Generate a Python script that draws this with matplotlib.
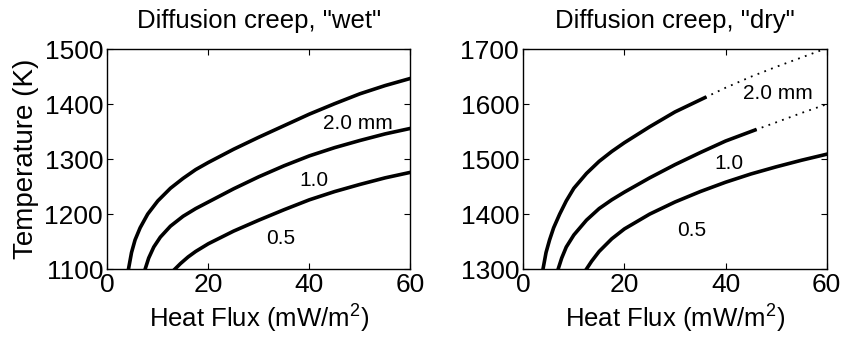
import matplotlib
matplotlib.use("Agg")
import matplotlib.pyplot as plt

plt.rcParams.update({
    "font.family": ["Liberation Sans", "DejaVu Sans"],
    "mathtext.fontset": "custom",
    "mathtext.rm": "Liberation Sans",
    "xtick.direction": "in",
    "ytick.direction": "in",
    "xtick.top": True,
    "ytick.right": True,
})

# "wet" diffusion creep: heat flux (mW/m^2) vs temperature (K), per grain size
wet_q_20 = [4.2, 4.8, 5.5, 6.5, 8.0, 10, 12.5, 15, 17.5, 20, 25, 30, 35, 40, 45, 50, 55, 60]
wet_T_20 = [1100, 1130, 1153, 1175, 1200, 1224, 1247, 1265, 1281, 1294, 1318, 1340, 1361, 1382, 1401, 1419, 1434, 1447]
wet_q_10 = [7.5, 8.2, 9.2, 10.5, 12.5, 15, 17.5, 20, 25, 30, 35, 40, 45, 50, 55, 60]
wet_T_10 = [1100, 1120, 1140, 1158, 1178, 1196, 1210, 1222, 1246, 1268, 1288, 1306, 1321, 1334, 1346, 1356]
wet_q_05 = [13.4, 14.5, 16, 17.5, 20, 25, 30, 35, 40, 45, 50, 55, 60]
wet_T_05 = [1100, 1110, 1122, 1132, 1146, 1169, 1189, 1208, 1226, 1241, 1254, 1266, 1276]

# "dry" diffusion creep: solid part and dotted continuation
dry_q_20 = [3.9, 4.5, 5.2, 6.0, 7.2, 8.5, 10, 12.5, 15, 17.5, 20, 25, 30, 35.9]
dry_T_20 = [1300, 1330, 1353, 1375, 1400, 1424, 1447, 1474, 1496, 1514, 1530, 1559, 1586, 1612]
dry_q_20_ext = [35.9, 40, 45, 50, 55, 60]
dry_T_20_ext = [1612, 1630, 1650, 1668, 1685, 1702]
dry_q_10 = [6.9, 7.6, 8.5, 10, 12.5, 15, 17.5, 20, 25, 30, 35, 40, 45.8]
dry_T_10 = [1300, 1320, 1340, 1362, 1389, 1410, 1426, 1440, 1466, 1490, 1512, 1533, 1553]
dry_q_10_ext = [45.8, 50, 55, 60]
dry_T_10_ext = [1553, 1567, 1584, 1600]
dry_q_05 = [12.5, 13.5, 15, 17.5, 20, 25, 30, 35, 40, 45, 50, 55, 60]
dry_T_05 = [1300, 1314, 1332, 1355, 1373, 1400, 1422, 1441, 1458, 1473, 1486, 1498, 1509]

fig = plt.figure(figsize=(8.44, 3.46), dpi=100)
ax1 = fig.add_axes([0.1271, 0.2225, 0.3592, 0.635])
ax2 = fig.add_axes([0.6200, 0.2225, 0.3595, 0.635])

LW = 2.6
FS_TICK = 19
FS_LAB = 18.5
FS_NOTE = 15

# wet panel
ax1.plot(wet_q_20, wet_T_20, color="black", lw=LW)
ax1.plot(wet_q_10, wet_T_10, color="black", lw=LW)
ax1.plot(wet_q_05, wet_T_05, color="black", lw=LW)
ax1.set_xlim(0, 60)
ax1.set_ylim(1100, 1500)
ax1.set_yticks([1100, 1200, 1300, 1400, 1500])
ax1.set_title('Diffusion creep, "wet"', fontsize=FS_LAB, pad=15)
ax1.set_ylabel("Temperature (K)", fontsize=20, labelpad=4)
ax1.text(49.6, 1365, "2.0 mm", fontsize=FS_NOTE, ha="center", va="center")
ax1.text(40.9, 1262, "1.0", fontsize=FS_NOTE, ha="center", va="center")
ax1.text(34.4, 1156, "0.5", fontsize=FS_NOTE, ha="center", va="center")

# dry panel
ax2.plot(dry_q_20, dry_T_20, color="black", lw=LW)
ax2.plot(dry_q_20_ext, dry_T_20_ext, color="black", lw=1.3, linestyle=(0, (1, 3)))
ax2.plot(dry_q_10, dry_T_10, color="black", lw=LW)
ax2.plot(dry_q_10_ext, dry_T_10_ext, color="black", lw=1.3, linestyle=(0, (1, 3)))
ax2.plot(dry_q_05, dry_T_05, color="black", lw=LW)
ax2.set_xlim(0, 60)
ax2.set_ylim(1300, 1700)
ax2.set_yticks([1300, 1400, 1500, 1600, 1700])
ax2.set_title('Diffusion creep, "dry"', fontsize=FS_LAB, pad=15)
ax2.text(50.3, 1619, "2.0 mm", fontsize=FS_NOTE, ha="center", va="center")
ax2.text(40.6, 1492, "1.0", fontsize=FS_NOTE, ha="center", va="center")
ax2.text(33.4, 1371, "0.5", fontsize=FS_NOTE, ha="center", va="center")

for ax in (ax1, ax2):
    ax.set_xticks([0, 20, 40, 60])
    ax.set_xlabel("Heat Flux (mW/m$^2$)", fontsize=FS_LAB, labelpad=3)
    ax.tick_params(labelsize=FS_TICK, length=4, width=0.8, pad=3)
    for s in ax.spines.values():
        s.set_linewidth(1.0)

fig.savefig("out.png", dpi=100)
